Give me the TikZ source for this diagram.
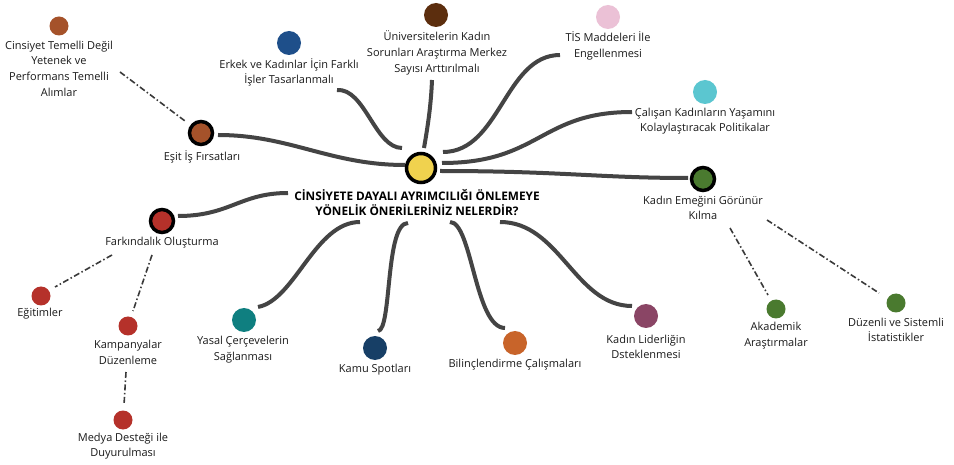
\documentclass[tikz,border=0pt]{standalone}
\usepackage{fontspec}
\setmainfont{Open Sans}
\usetikzlibrary{calc}

\definecolor{branchgray}{HTML}{444444}
\definecolor{twiggray}{HTML}{3A3A3A}
\definecolor{hubyellow}{HTML}{F0D24E}
\definecolor{cbrown}{HTML}{A5522A}
\definecolor{cblue}{HTML}{1E4F8A}
\definecolor{cdarkbrown}{HTML}{5C2E0E}
\definecolor{cpink}{HTML}{EBC1D6}
\definecolor{ccyan}{HTML}{5BC6D0}
\definecolor{cgreen}{HTML}{4A7A2F}
\definecolor{cred}{HTML}{B5312A}
\definecolor{cteal}{HTML}{0F7F80}
\definecolor{cnavy}{HTML}{173F66}
\definecolor{corange}{HTML}{C8642A}
\definecolor{cpurple}{HTML}{8A4565}
\definecolor{labelink}{HTML}{1A1A1A}

\begin{document}
\begin{tikzpicture}[x=1pt,y=-1pt,
  hubdot/.style={circle,draw=black,line width=3.5pt,inner sep=0pt,minimum size=29pt,fill=hubyellow},
  maindot/.style={circle,draw=black,line width=3.5pt,inner sep=0pt,minimum size=23pt},
  leafdot/.style={circle,inner sep=0pt,minimum size=24pt},
  smalldot/.style={circle,inner sep=0pt,minimum size=19pt},
  lbl/.style={align=center,inner sep=0pt,text=labelink,font=\fontsize{11}{15.6}\selectfont},
  titlelbl/.style={align=center,inner sep=0pt,font=\fontsize{11.8}{15}\selectfont\bfseries},
  branch/.style={draw=branchgray,line width=4pt},
  twig/.style={draw=twiggray,line width=1.6pt,dash pattern=on 6pt off 2.5pt on 1.5pt off 2.5pt}
]
\useasboundingbox[fill=white] (0,0) rectangle (954,465);

% ---- hub and question ----
\node[hubdot] (hub) at (421,168) {};
\node[titlelbl] (title) at (417,202.5) {CİNSİYETE DAYALI AYRIMCILIĞI ÖNLEMEYE\\YÖNELİK ÖNERİLERİNİZ NELERDİR?};

% ---- main branches with sub-items ----
\node[maindot,fill=cbrown] (esit) at (201,133) {};
\node[lbl] (esitL) at (202,156.5) {Eşit İş Fırsatları};
\node[maindot,fill=cred] (fark) at (162,221) {};
\node[lbl] (farkL) at (162,243) {Farkındalık Oluşturma};
\node[maindot,fill=cgreen] (emek) at (703,179) {};
\node[lbl] (emekL) at (703,208) {Kadın Emeğini Görünür\\Kılma};

% ---- leaves ----
\node[smalldot,fill=cbrown] (cins) at (59,26) {};
\node[lbl] (cinsL) at (59,68.5) {Cinsiyet Temelli Değil\\Yetenek ve\\Performans Temelli\\Alımlar};
\node[leafdot,fill=cblue] (erkek) at (289,43) {};
\node[lbl] (erkekL) at (289,72.5) {Erkek ve Kadınlar İçin Farklı\\İşler Tasarlanmalı};
\node[leafdot,fill=cdarkbrown] (univ) at (436,15) {};
\node[lbl] (univL) at (437,53) {Üniversitelerin Kadın\\Sorunları Araştırma Merkez\\Sayısı Arttırılmalı};
\node[leafdot,fill=cpink] (tis) at (608,17) {};
\node[lbl] (tisL) at (608,46) {TİS Maddeleri İle\\Engellenmesi};
\node[leafdot,fill=ccyan] (calisan) at (705,92) {};
\node[lbl] (calisanL) at (705,121) {Çalışan Kadınların Yaşamını\\Kolaylaştıracak Politikalar};
\node[leafdot,fill=cteal] (yasal) at (244,320) {};
\node[lbl] (yasalL) at (243,349.5) {Yasal Çerçevelerin\\Sağlanması};
\node[leafdot,fill=cnavy] (kamu) at (375,348) {};
\node[lbl] (kamuL) at (375,369.5) {Kamu Spotları};
\node[leafdot,fill=corange] (bilinc) at (515,343) {};
\node[lbl] (bilincL) at (515,365) {Bilinçlendirme Çalışmaları};
\node[leafdot,fill=cpurple] (lider) at (646,316) {};
\node[lbl] (liderL) at (646,347) {Kadın Liderliğin\\Dsteklenmesi};
\node[smalldot,fill=cgreen] (akad) at (776,309) {};
\node[lbl] (akadL) at (776,335.5) {Akademik\\Araştırmalar};
\node[smalldot,fill=cgreen] (duzen) at (896,303) {};
\node[lbl] (duzenL) at (896,330) {Düzenli ve Sistemli\\İstatistikler};
\node[smalldot,fill=cred] (egit) at (41,296) {};
\node[lbl] (egitL) at (40,313.5) {Eğitimler};
\node[smalldot,fill=cred] (kamp) at (128,326) {};
\node[lbl] (kampL) at (128,352.5) {Kampanyalar\\Düzenleme};
\node[smalldot,fill=cred] (medya) at (123,420) {};
\node[lbl] (medyaL) at (123,446) {Medya Desteği ile\\Duyurulması};

% ---- thick branches from the hub ----
\draw[branch] ($(esit)+(17,2)$) .. controls (290,135) and (330,165) .. ($(hub)+(-16,-3)$);
\draw[branch] ($(erkek)+(48,47)$) .. controls (365,88) and (375,148) .. ($(hub)+(-19,-20)$);
\draw[branch] ($(univ)+(-4,65)$) .. controls (431,105) and (428,125) .. ($(hub)+(3,-20)$);
\draw[branch] ($(tis)+(-48,38)$) .. controls (505,55) and (500,152) .. ($(hub)+(22,-16)$);
\draw[branch] ($(calisan)+(-73,20)$) .. controls (540,112) and (540,163) .. ($(hub)+(21,-5)$);
\draw[branch] ($(hub)+(19,3)$) .. controls (560,171) and (600,178) .. ($(emek)+(-15,-1)$);
\draw[branch] ($(fark)+(16,-5)$) .. controls (230,216) and (240,193) .. ($(title)+(-129,-9.5)$);
\draw[branch] ($(yasal)+(14,-13)$) .. controls (295,300) and (315,222) .. ($(title)+(-57,19.5)$);
\draw[branch] ($(kamu)+(3,-17)$) .. controls (392,330) and (385,223) .. ($(title)+(-9,20.5)$);
\draw[branch] ($(title)+(33,19.5)$) .. controls (472,222) and (475,328) .. ($(bilinc)+(-10,-15)$);
\draw[branch] ($(title)+(83,19.5)$) .. controls (560,222) and (575,306) .. ($(lider)+(-14,-10)$);

% ---- dash-dot links to sub-items ----
\draw[twig] ($(cinsL)+(61,3.5)$) -- ($(esit)+(-16,-12)$);
\draw[twig] ($(farkL)+(-50,12)$) -- ($(egit)+(14,-9)$);
\draw[twig] ($(farkL)+(-10,12)$) -- ($(kamp)+(5,-15)$);
\draw[twig] ($(kampL)+(-2,19.5)$) -- ($(medya)+(1,-15)$);
\draw[twig] ($(emekL)+(27,20)$) -- ($(akad)+(-8,-14)$);
\draw[twig] ($(emekL)+(64,12)$) -- ($(duzen)+(-17,-10)$);
\end{tikzpicture}
\end{document}
